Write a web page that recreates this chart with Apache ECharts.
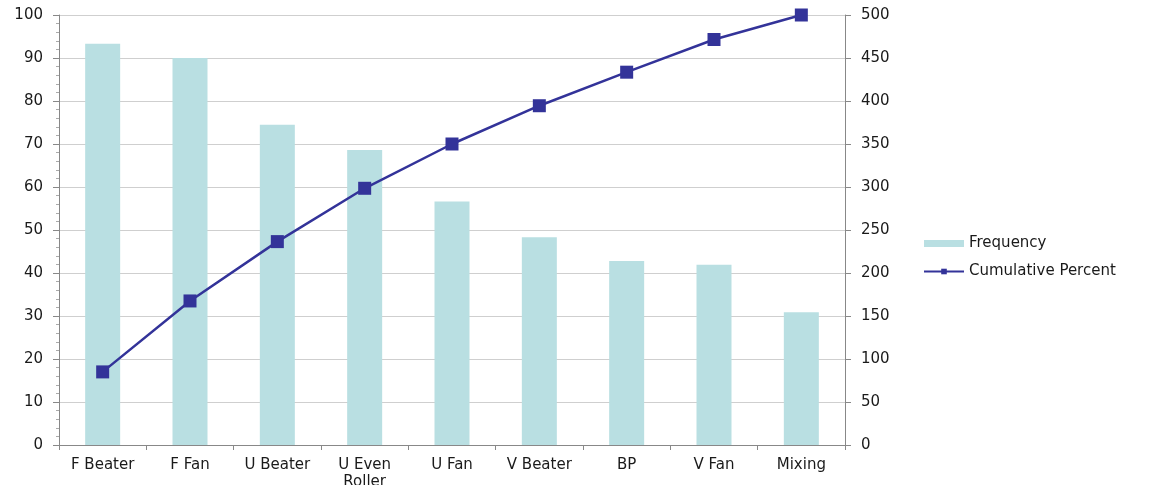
<!DOCTYPE html>
<html><head><meta charset="utf-8">
<script src="https://cdn.jsdelivr.net/npm/echarts@6/dist/echarts.min.js"></script>
<style>html,body{margin:0;padding:0;background:#fff}#c{width:1151px;height:485px}</style>
</head><body><div id="c"></div>
<script>
const categories = ['F Beater','F Fan','U Beater','U Even\nRoller','U Fan','V Beater','BP','V Fan','Mixing'];
const frequency = [93.3, 90.0, 74.5, 68.6, 56.6, 48.3, 42.8, 41.9, 30.9];
const cumulativePercent = [17.0, 33.5, 47.3, 59.7, 70.0, 78.9, 86.7, 94.3, 100];
const leftTicks = {min: 0, max: 100, interval: 10};
const rightTicks = {min: 0, max: 500, interval: 50};

const font = 'DejaVu Sans';
const txt = {color: '#1a1a1a', fontFamily: font, fontSize: 15};
const chart = echarts.init(document.getElementById('c'), null, {renderer: 'canvas'});
chart.setOption({
  animation: false,
  textStyle: {fontFamily: font},
  grid: {left: 59, right: 306, top: 15, bottom: 40, containLabel: false, outerBoundsMode: 'none'},
  legend: {
    orient: 'vertical', left: 918, top: 231, itemWidth: 40, itemHeight: 7, itemGap: 13,
    textStyle: Object.assign({}, txt),
    data: [{name: 'Frequency', icon: 'rect'}, {name: 'Cumulative Percent'}]
  },
  xAxis: {
    type: 'category', data: categories,
    axisLine: {lineStyle: {color: '#888', width: 1}},
    axisTick: {show: true, length: 5, lineStyle: {color: '#888'}},
    axisLabel: Object.assign({margin: 12, interval: 0, lineHeight: 17, verticalAlign: 'top'}, txt)
  },
  yAxis: [{
    type: 'value', min: leftTicks.min, max: leftTicks.max, interval: leftTicks.interval,
    axisLine: {show: true, lineStyle: {color: '#888'}},
    axisTick: {show: true, length: 6, lineStyle: {color: '#888'}},
    minorTick: {show: true, splitNumber: 5, length: 3, lineStyle: {color: '#aaa'}},
    axisLabel: Object.assign({margin: 16}, txt),
    splitLine: {show: true, lineStyle: {color: '#cfcfcf', width: 1}}
  }, {
    type: 'value', min: rightTicks.min, max: rightTicks.max, interval: rightTicks.interval,
    position: 'right',
    axisLine: {show: true, lineStyle: {color: '#888'}},
    axisTick: {show: true, length: 6, lineStyle: {color: '#888'}},
    axisLabel: Object.assign({margin: 16}, txt),
    splitLine: {show: false}
  }],
  series: [{
    name: 'Frequency', type: 'bar', data: frequency, yAxisIndex: 0,
    barWidth: 35, itemStyle: {color: '#B9DFE2'}
  }, {
    name: 'Cumulative Percent', type: 'line', data: cumulativePercent, yAxisIndex: 0,
    symbol: 'rect', symbolSize: 13, showAllSymbol: true,
    lineStyle: {color: '#333399', width: 2.5},
    itemStyle: {color: '#333399'}
  }]
});
</script></body></html>
